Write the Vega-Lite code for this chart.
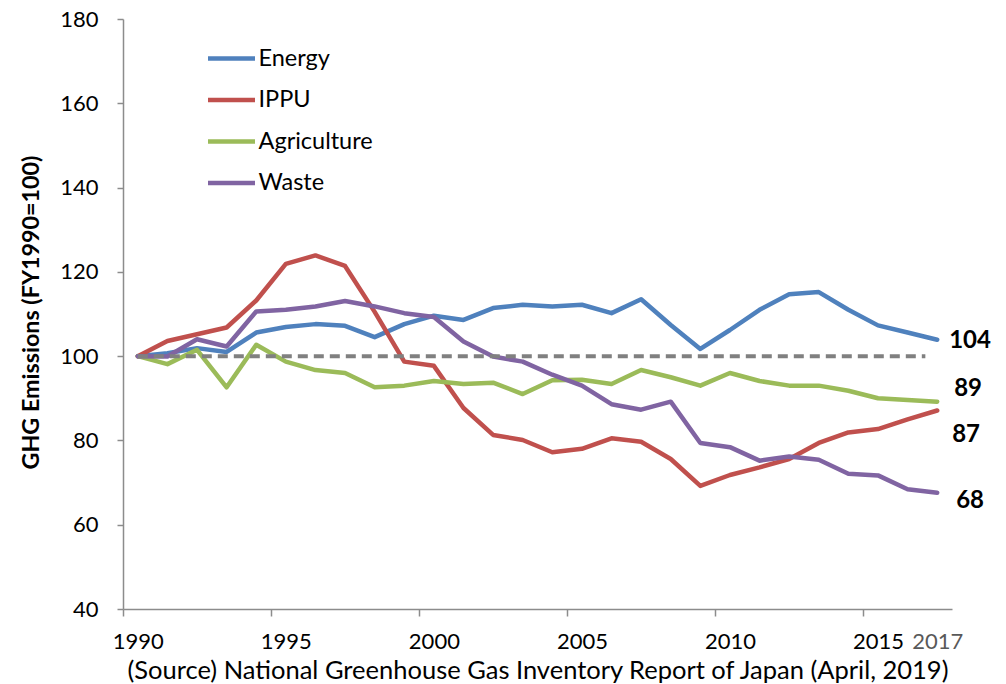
{
  "$schema": "https://vega.github.io/schema/vega-lite/v6.json",
  "width": 829,
  "height": 590,
  "autosize": "none",
  "padding": {"left": 123, "top": 19, "right": 54, "bottom": 75},
  "background": "white",
  "config": {"view": {"stroke": null}, "font": "Lato"},
  "datasets": {
    "emissions": [
      {"year": 1990, "sector": "Energy", "value": 100},
      {"year": 1991, "sector": "Energy", "value": 100.7},
      {"year": 1992, "sector": "Energy", "value": 101.9},
      {"year": 1993, "sector": "Energy", "value": 101.0},
      {"year": 1994, "sector": "Energy", "value": 105.6},
      {"year": 1995, "sector": "Energy", "value": 106.9},
      {"year": 1996, "sector": "Energy", "value": 107.6},
      {"year": 1997, "sector": "Energy", "value": 107.2},
      {"year": 1998, "sector": "Energy", "value": 104.5},
      {"year": 1999, "sector": "Energy", "value": 107.6},
      {"year": 2000, "sector": "Energy", "value": 109.6},
      {"year": 2001, "sector": "Energy", "value": 108.6},
      {"year": 2002, "sector": "Energy", "value": 111.4},
      {"year": 2003, "sector": "Energy", "value": 112.2},
      {"year": 2004, "sector": "Energy", "value": 111.8},
      {"year": 2005, "sector": "Energy", "value": 112.2},
      {"year": 2006, "sector": "Energy", "value": 110.2},
      {"year": 2007, "sector": "Energy", "value": 113.5},
      {"year": 2008, "sector": "Energy", "value": 107.4},
      {"year": 2009, "sector": "Energy", "value": 101.7},
      {"year": 2010, "sector": "Energy", "value": 106.2},
      {"year": 2011, "sector": "Energy", "value": 111.0},
      {"year": 2012, "sector": "Energy", "value": 114.7},
      {"year": 2013, "sector": "Energy", "value": 115.2},
      {"year": 2014, "sector": "Energy", "value": 111.0},
      {"year": 2015, "sector": "Energy", "value": 107.3},
      {"year": 2016, "sector": "Energy", "value": 105.6},
      {"year": 2017, "sector": "Energy", "value": 103.9},
      {"year": 1990, "sector": "IPPU", "value": 100},
      {"year": 1991, "sector": "IPPU", "value": 103.6},
      {"year": 1992, "sector": "IPPU", "value": 105.2},
      {"year": 1993, "sector": "IPPU", "value": 106.8},
      {"year": 1994, "sector": "IPPU", "value": 113.2},
      {"year": 1995, "sector": "IPPU", "value": 121.9},
      {"year": 1996, "sector": "IPPU", "value": 123.9},
      {"year": 1997, "sector": "IPPU", "value": 121.4},
      {"year": 1998, "sector": "IPPU", "value": 110.5},
      {"year": 1999, "sector": "IPPU", "value": 98.7},
      {"year": 2000, "sector": "IPPU", "value": 97.7},
      {"year": 2001, "sector": "IPPU", "value": 87.7},
      {"year": 2002, "sector": "IPPU", "value": 81.3},
      {"year": 2003, "sector": "IPPU", "value": 80.1},
      {"year": 2004, "sector": "IPPU", "value": 77.2},
      {"year": 2005, "sector": "IPPU", "value": 78.0},
      {"year": 2006, "sector": "IPPU", "value": 80.5},
      {"year": 2007, "sector": "IPPU", "value": 79.7},
      {"year": 2008, "sector": "IPPU", "value": 75.6},
      {"year": 2009, "sector": "IPPU", "value": 69.2},
      {"year": 2010, "sector": "IPPU", "value": 71.8},
      {"year": 2011, "sector": "IPPU", "value": 73.6},
      {"year": 2012, "sector": "IPPU", "value": 75.6},
      {"year": 2013, "sector": "IPPU", "value": 79.4},
      {"year": 2014, "sector": "IPPU", "value": 81.9},
      {"year": 2015, "sector": "IPPU", "value": 82.7},
      {"year": 2016, "sector": "IPPU", "value": 85.0},
      {"year": 2017, "sector": "IPPU", "value": 87.1},
      {"year": 1990, "sector": "Agriculture", "value": 100},
      {"year": 1991, "sector": "Agriculture", "value": 98.1},
      {"year": 1992, "sector": "Agriculture", "value": 101.5},
      {"year": 1993, "sector": "Agriculture", "value": 92.6},
      {"year": 1994, "sector": "Agriculture", "value": 102.7},
      {"year": 1995, "sector": "Agriculture", "value": 98.7},
      {"year": 1996, "sector": "Agriculture", "value": 96.7},
      {"year": 1997, "sector": "Agriculture", "value": 96.0},
      {"year": 1998, "sector": "Agriculture", "value": 92.6},
      {"year": 1999, "sector": "Agriculture", "value": 93.0},
      {"year": 2000, "sector": "Agriculture", "value": 94.1},
      {"year": 2001, "sector": "Agriculture", "value": 93.4},
      {"year": 2002, "sector": "Agriculture", "value": 93.7},
      {"year": 2003, "sector": "Agriculture", "value": 91.0},
      {"year": 2004, "sector": "Agriculture", "value": 94.3},
      {"year": 2005, "sector": "Agriculture", "value": 94.4},
      {"year": 2006, "sector": "Agriculture", "value": 93.4},
      {"year": 2007, "sector": "Agriculture", "value": 96.7},
      {"year": 2008, "sector": "Agriculture", "value": 95.0},
      {"year": 2009, "sector": "Agriculture", "value": 93.0},
      {"year": 2010, "sector": "Agriculture", "value": 96.0},
      {"year": 2011, "sector": "Agriculture", "value": 94.1},
      {"year": 2012, "sector": "Agriculture", "value": 93.0},
      {"year": 2013, "sector": "Agriculture", "value": 93.0},
      {"year": 2014, "sector": "Agriculture", "value": 91.8},
      {"year": 2015, "sector": "Agriculture", "value": 90.0},
      {"year": 2016, "sector": "Agriculture", "value": 89.6},
      {"year": 2017, "sector": "Agriculture", "value": 89.2},
      {"year": 1990, "sector": "Waste", "value": 100},
      {"year": 1991, "sector": "Waste", "value": 99.9},
      {"year": 1992, "sector": "Waste", "value": 104.0},
      {"year": 1993, "sector": "Waste", "value": 102.3},
      {"year": 1994, "sector": "Waste", "value": 110.6},
      {"year": 1995, "sector": "Waste", "value": 111.0},
      {"year": 1996, "sector": "Waste", "value": 111.8},
      {"year": 1997, "sector": "Waste", "value": 113.1},
      {"year": 1998, "sector": "Waste", "value": 111.8},
      {"year": 1999, "sector": "Waste", "value": 110.2},
      {"year": 2000, "sector": "Waste", "value": 109.3},
      {"year": 2001, "sector": "Waste", "value": 103.5},
      {"year": 2002, "sector": "Waste", "value": 99.9},
      {"year": 2003, "sector": "Waste", "value": 98.7},
      {"year": 2004, "sector": "Waste", "value": 95.6},
      {"year": 2005, "sector": "Waste", "value": 93.0},
      {"year": 2006, "sector": "Waste", "value": 88.6},
      {"year": 2007, "sector": "Waste", "value": 87.3},
      {"year": 2008, "sector": "Waste", "value": 89.2},
      {"year": 2009, "sector": "Waste", "value": 79.4},
      {"year": 2010, "sector": "Waste", "value": 78.4},
      {"year": 2011, "sector": "Waste", "value": 75.2},
      {"year": 2012, "sector": "Waste", "value": 76.2},
      {"year": 2013, "sector": "Waste", "value": 75.4},
      {"year": 2014, "sector": "Waste", "value": 72.1},
      {"year": 2015, "sector": "Waste", "value": 71.7},
      {"year": 2016, "sector": "Waste", "value": 68.4},
      {"year": 2017, "sector": "Waste", "value": 67.6}
    ],
    "baseline": [{"from": 1990, "to": 2016.6, "value": 100}]
  },
  "layer": [
    {
      "data": {"name": "emissions"},
      "mark": {"type": "line", "strokeWidth": 4.5, "strokeCap": "round", "strokeJoin": "round"},
      "encoding": {
        "x": {
          "field": "year", "type": "quantitative",
          "scale": {"domain": [1989.5, 2017.5], "nice": false, "zero": false},
          "axis": {
            "values": [1990, 1995, 2000, 2005, 2010, 2015, 2017],
            "format": "d",
            "title": "(Source) National Greenhouse Gas Inventory Report of Japan (April, 2019)",
            "grid": false,
            "labelFont": "Lato", "labelFontSize": 22,
            "labelColor": {"condition": {"test": "datum.value == 2017", "value": "#595959"}, "value": "black"},
            "tickOpacity": {"condition": {"test": "datum.value == 2017", "value": 0}, "value": 1},
            "tickOffset": -14.8, "labelOffset": 14.8,
            "tickSize": 7, "tickColor": "#8c8c8c", "tickWidth": 1.5,
            "domainColor": "#8c8c8c", "domainWidth": 1.5,
            "labelPadding": 15, "labelBaseline": "top",
            "labelFlush": false, "labelOverlap": false,
            "titleFont": "Lato", "titleFontSize": 25.5, "titleFontWeight": "normal", "titleColor": "black",
            "titleBaseline": "alphabetic", "titleY": 69.5, "titleX": 414.5
          }
        },
        "y": {
          "field": "value", "type": "quantitative",
          "scale": {"domain": [40, 180], "nice": false, "zero": false},
          "axis": {
            "values": [40, 60, 80, 100, 120, 140, 160, 180],
            "title": "GHG Emissions (FY1990=100)",
            "grid": false,
            "labelFont": "Lato", "labelFontSize": 22, "labelColor": "black",
            "labelPadding": 19, "labelFlush": false,
            "tickSize": 6, "tickColor": "#8c8c8c", "tickWidth": 1.5,
            "domainColor": "#8c8c8c", "domainWidth": 1.5,
            "titleFont": "Lato", "titleFontSize": 23.3, "titleFontWeight": "bold", "titleColor": "black",
            "titleBaseline": "alphabetic", "titleAngle": -90, "titleX": -84.5, "titleY": 293
          }
        },
        "color": {
          "field": "sector", "type": "nominal",
          "scale": {"domain": ["Energy", "IPPU", "Agriculture", "Waste"], "range": ["#4F81BD", "#C0504D", "#9BBB59", "#8064A2"]},
          "legend": {
            "orient": "none", "legendX": 96, "legendY": 27, "title": null,
            "symbolType": "M-2.35,0H2.35", "symbolSize": 400, "symbolStrokeWidth": 4.5,
            "labelFont": "Lato", "labelFontSize": 23.5, "labelColor": "black",
            "labelOffset": 14.5, "rowPadding": 17.5
          }
        }
      }
    },
    {
      "data": {"name": "baseline"},
      "mark": {"type": "rule", "color": "#808080", "strokeWidth": 4, "strokeDash": [10, 6]},
      "encoding": {
        "x": {"field": "from", "type": "quantitative"},
        "x2": {"field": "to"},
        "y": {"field": "value", "type": "quantitative"}
      }
    },
    {
      "data": {"name": "emissions"},
      "transform": [{"filter": "datum.year == 2017 && datum.sector == 'Energy'"}],
      "mark": {"type": "text", "align": "left", "baseline": "middle", "dx": 12, "dy": 1, "font": "Lato", "fontSize": 24, "fontWeight": "bold", "color": "black"},
      "encoding": {
        "x": {"field": "year", "type": "quantitative"},
        "y": {"field": "value", "type": "quantitative"},
        "text": {"field": "value", "type": "quantitative", "format": ".0f"}
      }
    },
    {
      "data": {"name": "emissions"},
      "transform": [{"filter": "datum.year == 2017 && datum.sector == 'Agriculture'"}],
      "mark": {"type": "text", "align": "left", "baseline": "middle", "dx": 17, "dy": -13, "font": "Lato", "fontSize": 24, "fontWeight": "bold", "color": "black"},
      "encoding": {
        "x": {"field": "year", "type": "quantitative"},
        "y": {"field": "value", "type": "quantitative"},
        "text": {"field": "value", "type": "quantitative", "format": ".0f"}
      }
    },
    {
      "data": {"name": "emissions"},
      "transform": [{"filter": "datum.year == 2017 && datum.sector == 'IPPU'"}],
      "mark": {"type": "text", "align": "left", "baseline": "middle", "dx": 15, "dy": 24, "font": "Lato", "fontSize": 24, "fontWeight": "bold", "color": "black"},
      "encoding": {
        "x": {"field": "year", "type": "quantitative"},
        "y": {"field": "value", "type": "quantitative"},
        "text": {"field": "value", "type": "quantitative", "format": ".0f"}
      }
    },
    {
      "data": {"name": "emissions"},
      "transform": [{"filter": "datum.year == 2017 && datum.sector == 'Waste'"}],
      "mark": {"type": "text", "align": "left", "baseline": "middle", "dx": 19, "dy": 8, "font": "Lato", "fontSize": 24, "fontWeight": "bold", "color": "black"},
      "encoding": {
        "x": {"field": "year", "type": "quantitative"},
        "y": {"field": "value", "type": "quantitative"},
        "text": {"field": "value", "type": "quantitative", "format": ".0f"}
      }
    }
  ]
}
